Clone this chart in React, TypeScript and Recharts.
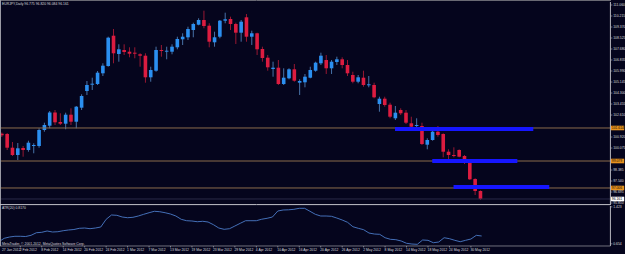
import React from 'react';
import { ComposedChart, Bar, Line, XAxis, YAxis, ReferenceLine } from 'recharts';

const DATES = [
  '27 Jan 2012','30 Jan 2012','31 Jan 2012','1 Feb 2012','2 Feb 2012','3 Feb 2012','6 Feb 2012','7 Feb 2012','8 Feb 2012','9 Feb 2012',
  '10 Feb 2012','13 Feb 2012','14 Feb 2012','15 Feb 2012','16 Feb 2012','17 Feb 2012','20 Feb 2012','21 Feb 2012','22 Feb 2012','23 Feb 2012',
  '24 Feb 2012','27 Feb 2012','28 Feb 2012','29 Feb 2012','1 Mar 2012','2 Mar 2012','5 Mar 2012','6 Mar 2012','7 Mar 2012','8 Mar 2012',
  '9 Mar 2012','12 Mar 2012','13 Mar 2012','14 Mar 2012','15 Mar 2012','16 Mar 2012','19 Mar 2012','20 Mar 2012','21 Mar 2012','22 Mar 2012',
  '23 Mar 2012','26 Mar 2012','27 Mar 2012','28 Mar 2012','29 Mar 2012','30 Mar 2012','2 Apr 2012','3 Apr 2012','4 Apr 2012','5 Apr 2012',
  '6 Apr 2012','9 Apr 2012','10 Apr 2012','11 Apr 2012','12 Apr 2012','13 Apr 2012','16 Apr 2012','17 Apr 2012','18 Apr 2012','19 Apr 2012',
  '20 Apr 2012','23 Apr 2012','24 Apr 2012','25 Apr 2012','26 Apr 2012','27 Apr 2012','30 Apr 2012','1 May 2012','2 May 2012','3 May 2012',
  '4 May 2012','7 May 2012','8 May 2012','9 May 2012','10 May 2012','11 May 2012','14 May 2012','15 May 2012','16 May 2012','17 May 2012',
  '18 May 2012','21 May 2012','22 May 2012','23 May 2012','24 May 2012','25 May 2012','28 May 2012','29 May 2012','30 May 2012','31 May 2012',
  '1 Jun 2012',
];

const OPEN = [
  101.176,101.153,100.101,99.540,100.078,99.924,100.231,100.231,101.460,101.790,
  102.804,102.074,101.944,102.635,102.097,103.173,104.455,104.970,104.993,105.815,
  106.375,108.702,107.297,107.604,107.473,107.397,107.274,107.166,105.507,106.014,
  107.604,107.473,107.473,107.811,108.426,108.579,109.140,109.547,109.908,109.470,
  108.195,108.625,109.854,109.985,109.601,108.933,110.115,108.625,108.887,107.681,
  107.013,106.145,106.245,104.993,105.431,106.122,105.093,105.123,105.477,106.014,
  106.583,106.836,106.199,106.682,106.890,106.452,105.684,105.169,105.477,104.893,
  104.916,103.457,103.864,103.403,102.359,102.996,102.789,101.975,101.767,101.767,
  100.331,100.692,101.329,101.153,99.793,99.540,99.924,99.463,99.156,97.697,
  96.775,
];
const HIGH = [
  101.268,101.230,100.538,100.462,100.231,100.638,100.439,101.591,102.021,102.919,
  102.996,102.743,102.789,103.127,103.303,104.202,105.223,105.477,105.991,106.583,
  108.625,109.217,108.042,108.042,107.811,107.811,107.351,107.351,106.321,107.857,
  107.988,107.857,108.042,108.625,108.887,109.393,109.701,110.039,110.622,109.655,
  109.009,109.908,110.469,110.161,109.701,109.908,110.369,109.086,108.933,107.857,
  107.220,106.705,106.836,106.199,106.199,106.529,105.354,105.761,106.321,106.705,
  107.397,107.220,106.836,107.089,107.043,106.836,105.937,105.684,106.014,105.607,
  105.093,104.017,104.017,103.557,103.303,103.127,102.996,102.481,102.359,102.021,
  100.823,101.460,101.767,101.207,99.978,100.131,99.978,99.540,99.210,97.751,
  96.820,
];
const LOW = [
  100.922,99.924,99.463,99.156,99.409,99.793,99.671,100.101,101.329,101.591,
  101.844,101.844,101.514,101.844,101.591,102.996,104.148,104.532,104.916,105.607,
  106.321,106.583,106.705,107.220,107.043,106.967,106.321,105.093,105.169,105.937,
  107.089,106.890,107.274,107.658,107.988,108.372,108.579,109.501,109.271,107.811,
  107.857,108.503,109.655,109.140,108.065,108.241,108.241,107.988,107.220,106.705,
  106.014,105.553,104.916,104.916,105.354,105.169,104.148,104.739,105.431,105.937,
  106.452,105.761,105.761,106.452,106.199,105.607,105.047,105.047,104.785,104.739,
  103.895,102.865,103.249,102.359,102.228,102.612,101.921,101.591,101.591,100.308,
  99.978,100.638,100.945,99.363,99.210,99.363,99.363,98.849,97.620,96.468,
  96.084,
];
const CLOSE = [
  101.053,100.101,99.540,100.055,99.924,100.485,100.308,101.460,101.844,102.804,
  102.051,101.944,102.635,102.097,103.249,104.071,104.916,105.016,105.861,106.398,
  108.549,107.351,107.658,107.450,107.320,107.351,107.166,105.507,106.068,107.604,
  107.527,107.550,107.857,108.449,108.625,109.217,109.601,109.908,109.447,108.241,
  108.579,109.854,109.962,109.601,108.933,109.777,108.625,108.887,107.658,106.990,
  106.275,106.245,104.993,105.477,106.122,105.246,105.223,105.553,106.068,106.629,
  107.166,106.199,106.705,106.890,106.452,105.815,105.169,105.507,104.916,104.970,
  103.971,103.864,103.380,102.481,102.789,102.743,102.021,101.713,101.844,100.385,
  100.692,101.329,101.076,99.793,99.540,99.486,99.409,99.156,97.674,96.775,
  96.161,
];
const ATR = [
  0.698,0.769,0.796,0.811,0.811,0.806,0.831,0.885,0.894,0.921,
  0.900,0.906,0.927,0.942,0.952,0.977,0.983,0.969,0.983,1.004,
  1.164,1.254,1.247,1.212,1.197,1.206,1.233,1.268,1.301,1.331,
  1.322,1.301,1.274,1.233,1.164,1.135,1.129,1.114,1.123,1.108,
  1.052,0.983,0.956,0.969,1.025,1.081,1.135,1.135,1.135,1.166,
  1.185,1.212,1.337,1.358,1.362,1.372,1.393,1.393,1.331,1.268,
  1.233,1.233,1.227,1.191,1.150,1.102,1.010,0.977,0.948,0.879,
  0.858,0.852,0.781,0.748,0.740,0.713,0.665,0.650,0.644,0.734,
  0.727,0.677,0.692,0.781,0.761,0.727,0.698,0.727,0.754,0.831,
  0.817,
];

// price scale labels that stay visible (the ones under the orange level tags are hidden)
const PRICE_TICKS = [111.060,110.215,109.370,108.525,107.680,106.835,105.990,105.145,104.300,103.455,102.610,100.920,100.075,98.385,97.540,96.695,95.850];
const ATR_TICKS = [1.423, 0.654];
const DATE_TICKS = [0,4,8,12,16,20,24,28,32,36,40,44,48,52,56,60,64,68,72,76,80,84,88];
const LEVELS = [101.614, 99.079, 97.006];
const ZONES = [
  { from: 74, to: 100, price: 101.537 },
  { from: 81, to: 97, price: 99.079 },
  { from: 85, to: 103, price: 97.082 },
];

const SLOTS = 115;
const rows = Array.from({ length: SLOTS }, (_, i) => ({
  i,
  open: OPEN[i],
  high: HIGH[i],
  low: LOW[i],
  close: CLOSE[i],
  atr: ATR[i],
}));
const LAST = CLOSE[CLOSE.length - 1];

const BG = '#05051d';
const AXIS = '#b8b8c0';
const TXT = '#d8d8dc';
const BULL = '#2b8ff0';
const BEAR = '#dc1c40';
const WICK_UP = '#4f7fb8';
const WICK_DOWN = '#a81a34';
const LEVEL = '#8c6c4c';
const ZONE = '#1616ff';
const FONT = 'Liberation Sans, Arial, sans-serif';
const FS = 3.4;
const BODY_W = 3.6;

const Candle = (props: any) => {
  const { x, y, width, height, payload } = props;
  if (!payload || payload.high == null) return null;
  const { open, high, low, close } = payload;
  const top = Math.min(y, y + height);
  const h = Math.abs(height);
  const k = h / (high - low || 1);
  const cx = x + width / 2;
  const yo = top + (high - open) * k;
  const yc = top + (high - close) * k;
  const up = close >= open;
  const bt = Math.min(yo, yc);
  const bh = Math.max(Math.abs(yo - yc), 1);
  return (
    <g>
      <line x1={cx} x2={cx} y1={top} y2={top + h} stroke={up ? WICK_UP : WICK_DOWN} strokeWidth={0.9} />
      <rect x={cx - BODY_W / 2} y={bt} width={BODY_W} height={bh} fill={up ? BULL : BEAR} />
    </g>
  );
};

const PriceTick = (props: any) => {
  const { x, y, payload } = props;
  return (
    <text x={x + 0.8} y={y} dy="0.36em" fontSize={FS} fill={TXT} fontFamily={FONT}>
      {Number(payload.value).toFixed(3)}
    </text>
  );
};

const DateTick = (props: any) => {
  const { x, y, payload } = props;
  return (
    <g>
      <line x1={x} x2={x} y1={y} y2={y + 1.5} stroke={AXIS} strokeWidth={0.6} />
      <text x={Math.max(x - 0.5, 13)} y={y + 5.4} fontSize={FS} fill={TXT} fontFamily={FONT}>
        {DATES[payload.value] ?? ''}
      </text>
    </g>
  );
};

const Tag = (props: any) => {
  const { viewBox, text, bg, fg } = props;
  if (!viewBox) return null;
  const x0 = viewBox.x + viewBox.width + 0.6;
  const y0 = viewBox.y;
  return (
    <g>
      <rect x={x0} y={y0 - 2.3} width={13.2} height={4.6} fill={bg} />
      <text x={x0 + 0.8} y={y0} dy="0.36em" fontSize={FS} fill={fg} fontFamily={FONT}>{text}</text>
    </g>
  );
};

export default function App() {
  return (
    <div style={{ position: 'absolute', left: 0, top: 0, width: 625, height: 254, overflow: 'hidden', background: BG }}>
      <div style={{ position: 'absolute', left: -11, top: 0 }}>
        <ComposedChart width={641.41} height={205} data={rows} margin={{ top: 2, right: 0, bottom: 1, left: 9.841 }}>
          <XAxis dataKey="i" type="category" hide height={0} />
          <YAxis
            orientation="right"
            width={20}
            domain={[95.777, 111.29]}
            allowDataOverflow
            ticks={PRICE_TICKS}
            interval={0}
            tick={<PriceTick />}
            tickSize={2}
            tickMargin={0}
            tickLine={{ stroke: AXIS, strokeWidth: 0.6 }}
            axisLine={{ stroke: AXIS }}
          />
          <Bar
            dataKey={(d: any) => (d.high != null ? [d.low, d.high] : null)}
            shape={Candle}
            barSize={4}
            isAnimationActive={false}
          />
          <ReferenceLine y={LAST} stroke="#2a2a48" strokeWidth={1}
            label={<Tag text={LAST.toFixed(3)} bg="#ffffff" fg="#000000" />} />
          {LEVELS.map((p) => (
            <ReferenceLine key={p} y={p} stroke={LEVEL} strokeWidth={1}
              label={<Tag text={p.toFixed(3)} bg="#e8921e" fg="#1a1000" />} />
          ))}
          {ZONES.map((z) => (
            <ReferenceLine key={z.price} segment={[{ x: z.from, y: z.price }, { x: z.to, y: z.price }]}
              stroke={ZONE} strokeWidth={4} />
          ))}
        </ComposedChart>
      </div>
      <div style={{ position: 'absolute', left: -11, top: 205 }}>
        <ComposedChart width={641.41} height={49} data={rows} margin={{ top: 1, right: 0, bottom: 0, left: 9.841 }}>
          <XAxis
            dataKey="i"
            type="category"
            height={8}
            ticks={DATE_TICKS}
            interval={0}
            tick={<DateTick />}
            tickLine={false}
            tickSize={0}
            tickMargin={0}
            axisLine={{ stroke: '#70707c' }}
          />
          <YAxis
            orientation="right"
            width={20}
            domain={[0.609, 1.441]}
            allowDataOverflow
            ticks={ATR_TICKS}
            interval={0}
            tick={<PriceTick />}
            tickSize={2}
            tickMargin={0}
            tickLine={{ stroke: AXIS, strokeWidth: 0.6 }}
            axisLine={{ stroke: AXIS }}
          />
          <Line dataKey="atr" stroke="#4c7cc8" strokeWidth={0.9} dot={false} isAnimationActive={false} />
        </ComposedChart>
      </div>
      <svg width={625} height={254} style={{ position: 'absolute', left: 0, top: 0, pointerEvents: 'none' }}>
        <line x1={0} x2={611} y1={0.5} y2={0.5} stroke="#6a6a74" strokeWidth={1} />
        <line x1={0.5} x2={0.5} y1={0} y2={246} stroke="#9a9aa4" strokeWidth={1} />
        <line x1={0} x2={611} y1={204.6} y2={204.6} stroke="#c4c4cc" strokeWidth={1} />
        <text x={2} y={4.6} fontSize={FS} fill={TXT} fontFamily={FONT}>
          {`EURJPY,Daily  ${OPEN[90].toFixed(3)} ${HIGH[90].toFixed(3)} ${LOW[90].toFixed(3)} ${CLOSE[90].toFixed(3)}`}
        </text>
        <text x={2} y={209.2} fontSize={FS} fill={TXT} fontFamily={FONT}>
          {`ATR(20) ${ATR[ATR.length - 1].toFixed(4)}`}
        </text>
        <text x={2} y={245.4} fontSize={FS} fill={TXT} fontFamily={FONT}>
          MetaTrader, © 2001-2012, MetaQuotes Software Corp.
        </text>
      </svg>
    </div>
  );
}
